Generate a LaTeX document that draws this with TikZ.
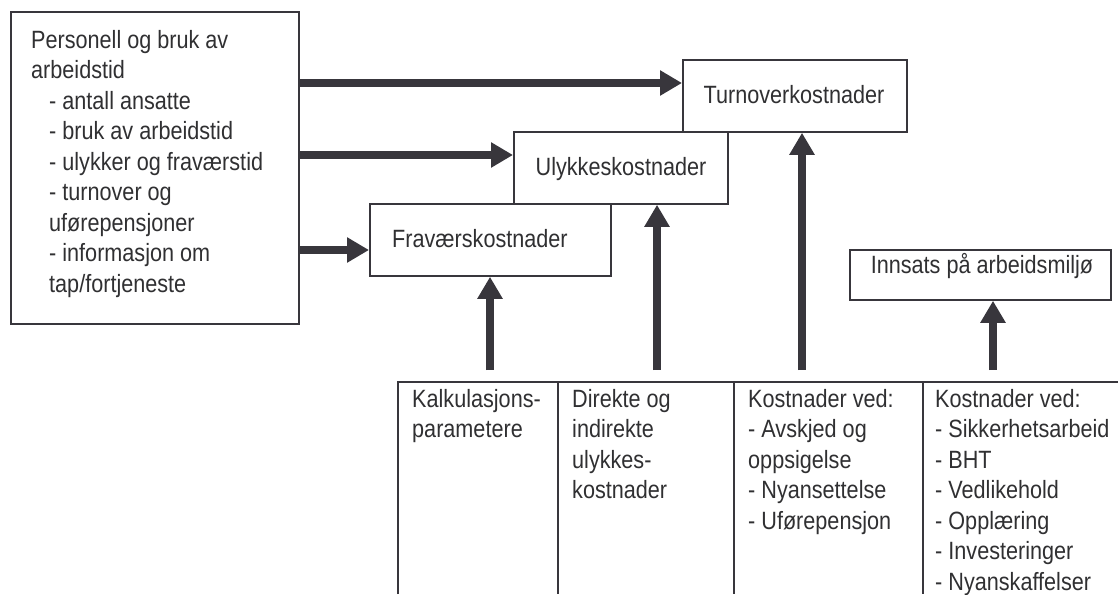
\documentclass[tikz,border=0pt]{standalone}
\usepackage{fontspec}
\setmainfont{Liberation Sans}[FakeStretch=0.865]
\usetikzlibrary{arrows.meta}
\definecolor{ink}{RGB}{56,54,60}
\definecolor{txt}{RGB}{48,48,50}
\begin{document}
\begin{tikzpicture}[x=1pt,y=-1pt,
  box/.style={draw=ink, line width=1.8pt, fill=white, inner sep=0pt, anchor=north west},
  lbl/.style={text=txt, inner sep=0pt, align=left, font=\fontsize{25}{30.5}\selectfont},
  flow/.style={draw=ink, line width=8pt, -{Triangle[width=24pt,length=22pt]}},
  grid/.style={draw=ink, line width=1.8pt},
]
\useasboundingbox[fill=white] (0,0) rectangle (1118,594);

% source box on the left (multi-line labels are placed by their last baseline)
\node[box, minimum width=288pt, minimum height=312pt] (src) at (10,11) {};
\node[lbl, anchor=base west] (srctext) at (31,292)
  {Personell og bruk av\\
   arbeidstid\\
   \hspace*{18pt}- antall ansatte\\
   \hspace*{18pt}- bruk av arbeidstid\\
   \hspace*{18pt}- ulykker og fraværstid\\
   \hspace*{18pt}- turnover og\\
   \hspace*{18pt}uførepensjoner\\
   \hspace*{18pt}- informasjon om\\
   \hspace*{18pt}tap/fortjeneste};

% cost boxes
\node[box, minimum width=224pt, minimum height=72pt] (turn) at (682,59) {};
\node[lbl, anchor=base] (turntext) at (794,103) {Turnoverkostnader};
\node[box, minimum width=214pt, minimum height=72pt] (ulyk) at (513,131) {};
\node[lbl, anchor=base] (ulyktext) at (621,175) {Ulykkeskostnader};
\node[box, minimum width=241pt, minimum height=72pt] (frav) at (369,203) {};
\node[lbl, anchor=base west] (fravtext) at (392,247) {Fraværskostnader};
\node[box, minimum width=261pt, minimum height=50pt] (inns) at (849,249) {};
\node[lbl, anchor=base] (innstext) at (982,273) {Innsats på arbeidsmiljø};

% horizontal flows from the source box
\draw[flow] (src.east |- 0,83) -- (turn.west |- 0,83);
\draw[flow] (src.east |- 0,155) -- (ulyk.west |- 0,155);
\draw[flow] (src.east |- 0,250) -- (frav.west |- 0,250);

% table of inputs at the bottom
\coordinate (tl) at (398,382);
\coordinate (tr) at (1118,382);
\coordinate (tb) at (398,594);
\draw[grid] (tb) -- (tl) -- (tr);
\coordinate (d1t) at (558,382); \coordinate (d1b) at (558,594);
\coordinate (d2t) at (734,382); \coordinate (d2b) at (734,594);
\coordinate (d3t) at (923,382); \coordinate (d3b) at (923,594);
\draw[grid] (d1t) -- (d1b);
\draw[grid] (d2t) -- (d2b);
\draw[grid] (d3t) -- (d3b);

\node[lbl, anchor=base west] (col1) at (412,437.5)
  {Kalkulasjons-\\parametere};
\node[lbl, anchor=base west] (col2) at (572,498.5)
  {Direkte og\\indirekte\\ulykkes-\\kostnader};
\node[lbl, anchor=base west] (col3) at (748,529)
  {Kostnader ved:\\- Avskjed og\\oppsigelse\\- Nyansettelse\\- Uførepensjon};
\node[lbl, anchor=base west] (col4) at (935,590)
  {Kostnader ved:\\- Sikkerhetsarbeid\\- BHT\\- Vedlikehold\\- Opplæring\\- Investeringer\\- Nyanskaffelser};

% vertical flows from the table up to the boxes
\coordinate (k1) at (490,370);
\coordinate (k2) at (657,370);
\coordinate (k3) at (802,370);
\coordinate (k4) at (993,370);
\draw[flow] (k1) -- (frav.south -| k1);
\draw[flow] (k2) -- (ulyk.south -| k2);
\draw[flow] (k3) -- (turn.south -| k3);
\draw[flow] (k4) -- (inns.south -| k4);
\end{tikzpicture}
\end{document}
